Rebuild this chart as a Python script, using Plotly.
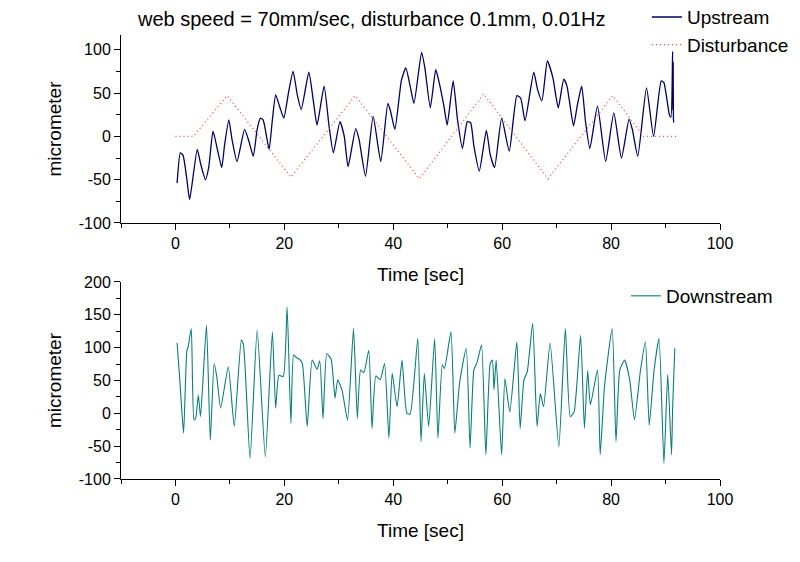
import plotly.graph_objects as go

# Upstream (micrometer) - read extrema from the picture
up_t = [0.3, 0.9, 1.4, 2.1, 2.6, 4.0, 4.6, 5.5, 6.1, 6.9, 7.7, 8.5, 9.0, 9.8, 10.4, 11.3,
        12.7, 13.5, 14.3, 15.0, 15.6, 16.1, 16.5, 17.2, 17.8, 18.4, 19.2, 19.9, 20.8, 21.6,
        22.4, 23.1, 24.5, 25.3, 26.0, 27.3, 28.2, 29.0, 30.2, 31.0, 31.7, 33.1, 33.7, 34.9,
        36.3, 37.7, 39.0, 39.5, 40.3, 41.5, 42.3, 43.1, 43.8, 45.2, 45.8, 46.8, 47.8, 48.4,
        49.3, 49.9, 51.0, 51.8, 52.7, 53.6, 54.2, 54.8, 55.8, 57.1, 57.8, 58.6, 59.9, 61.3,
        62.7, 63.4, 64.2, 65.8, 66.5, 67.3, 68.3, 69.3, 70.3, 71.3, 71.9, 73.1, 73.8, 74.6,
        75.3, 76.1, 77.5, 79.0, 80.5, 81.9, 83.3, 83.9, 84.9, 86.5, 87.8, 89.2, 89.7, 90.7,
        91.0, 91.3, 91.35, 91.4, 91.45, 91.5]
up_v = [-54, -19, -22, -50, -73, -15, -31, -50, -36, 6, -15, -36, -11, 19, -4, -29,
        8, -6, -23, 8, 21, 19, 8, -15, 19, 48, 33, 21, 52, 75,
        47, 31, 74, 42, 13, 58, 12, -19, 17, 0, -35, 9, -3, -46,
        23, -29, 38, 29, 8, 65, 79, 58, 38, 97, 79, 33, 77, 63,
        35, 13, 64, 19, -14, 17, 16, -11, -40, 7, -21, -36, 21, -17,
        47, 44, 18, 74, 54, 41, 87, 68, 33, 66, 58, 12, 36, 58,
        17, -14, 35, -29, 27, -25, 20, 8, -23, 56, 0, 64, 62, 25,
        22, 98, 30, 85, 20, 16]

# Disturbance (micrometer)
dist_t = [0.0, 3.3, 9.5, 21.2, 33.0, 44.8, 56.6, 68.4, 80.3, 86.0, 92.3]
dist_v = [0, 0, 47, -47, 47, -49, 49, -49, 47, 0, 0]

# Downstream (micrometer)
down_t = [0.3, 0.8, 1.2, 1.5, 2.1, 2.3, 2.9, 3.4, 3.7, 4.2, 4.6, 5.7, 6.4, 7.1, 7.6, 8.3,
          9.7, 10.8, 12.1, 12.5, 13.7, 15.0, 16.5, 17.8, 18.4, 19.0, 19.8, 20.5, 21.2,
          21.7, 22.2, 22.8, 23.3, 24.2, 25.1, 26.0, 26.5, 27.1, 27.8, 28.6, 29.3, 29.8,
          30.6, 31.6, 32.7, 33.4, 34.0, 34.6, 35.5, 36.1, 36.8, 37.6, 38.4, 39.2, 39.8,
          40.7, 41.6, 42.5, 43.1, 44.5, 45.1, 45.7, 46.5, 47.6, 48.2, 49.0, 49.4, 50.6,
          51.3, 52.2, 53.4, 54.1, 54.8, 55.4, 56.2, 57.0, 57.8, 58.2, 58.5, 58.9, 59.9,
          60.5, 61.4, 62.7, 63.3, 64.0, 64.6, 65.6, 66.4, 67.0, 67.6, 68.8, 70.4, 71.6,
          72.5, 73.2, 74.4, 75.1, 75.7, 76.2, 77.5, 78.0, 78.8, 80.2, 80.9, 81.6, 82.5,
          83.4, 84.3, 85.4, 86.3, 87.0, 87.9, 88.8, 89.7, 90.4, 91.1, 91.3, 91.7]
down_v = [107, 51, 0, -30, 96, 100, 129, -10, -8, 28, -5, 134, -41, 76, 55, 8,
          71, -20, 112, 104, -69, 127, -66, 124, 8, 58, 56, 162, -15,
          89, 85, 82, 76, -20, 81, 67, 80, -8, 91, 82, 23, 51,
          35, -10, 129, -8, 66, 62, 96, -23, 57, 51, 76, -38, 61,
          10, 81, 0, -1, 114, -43, 61, -20, 114, -38, 74, 68, 124,
          -30, 48, 99, -53, 66, 78, 104, -63, 76, 81, 36, 81, -63,
          53, 2, 109, -23, 51, 63, 137, -20, 30, 10, 107, -51, 129,
          -5, 2, 119, -23, 65, 13, 66, -63, 42, 129, -43, 66, 81,
          52, -10, 66, 109, -18, 66, 114, -76, 59, -63, 8, 99]

# Tick values and labels
x_ticks = [0, 20, 40, 60, 80, 100]
y1_ticks = [-100, -50, 0, 50, 100]
y1_labels = ["-100", "-50", "0", "50", "100"]
y2_ticks = [-100, -50, 0, 50, 100, 150, 200]
y2_labels = ["-100", "-50", "0", "50", "100", "150", "200"]

title_text = "web speed = 70mm/sec, disturbance 0.1mm, 0.01Hz"
x_title = "Time [sec]"
y_title = "micrometer"

FONT = "Liberation Sans, Arial, sans-serif"

fig = go.Figure()
fig.add_trace(go.Scatter(x=up_t, y=up_v, mode="lines", name="Upstream",
                         line=dict(color="#000066", width=1.3, shape="spline", smoothing=0.5),
                         xaxis="x", yaxis="y", legend="legend"))
fig.add_trace(go.Scatter(x=dist_t, y=dist_v, mode="lines", name="Disturbance",
                         line=dict(color="#e8403f", width=1.2, dash="1px,3px"),
                         xaxis="x", yaxis="y", legend="legend"))
fig.add_trace(go.Scatter(x=down_t, y=down_v, mode="lines", name="Downstream",
                         line=dict(color="#0a7f7a", width=1.1, shape="spline", smoothing=0.5),
                         xaxis="x2", yaxis="y2", legend="legend2"))

axis_common = dict(showline=True, linecolor="black", linewidth=1, ticks="outside",
                   ticklen=6, tickcolor="black", showgrid=False, zeroline=False,
                   tickfont=dict(family=FONT, size=16, color="black"), mirror=False,
                   automargin=False)

xa = dict(axis_common, range=[-10, 100], tickvals=x_ticks,
          minor=dict(dtick=10, tick0=0, ticks="outside", ticklen=4, tickcolor="black"),
          title=dict(text=x_title, font=dict(family=FONT, size=19, color="black"), standoff=16))
ya_title = dict(text=y_title, font=dict(family=FONT, size=19, color="black"), standoff=12)

fig.update_layout(
    width=792, height=554,
    paper_bgcolor="white", plot_bgcolor="white",
    margin=dict(l=113, r=80, t=27, b=83, autoexpand=False),
    xaxis=dict(xa, domain=[0, 1], anchor="y"),
    xaxis2=dict(xa, domain=[0, 1], anchor="y2"),
    yaxis=dict(axis_common, domain=[0.5766, 1], range=[-100, 117], anchor="x",
               tickvals=y1_ticks, ticktext=y1_labels,
               minor=dict(dtick=25, tick0=0, ticks="outside", ticklen=4, tickcolor="black"),
               title=ya_title),
    yaxis2=dict(axis_common, domain=[0, 0.4437], range=[-100, 200], anchor="x2",
                tickvals=y2_ticks, ticktext=y2_labels,
                minor=dict(dtick=25, tick0=0, ticks="outside", ticklen=4, tickcolor="black"),
                title=ya_title),
    legend=dict(x=0.878, y=1.083, xanchor="left", yanchor="top", bgcolor="rgba(0,0,0,0)",
                font=dict(family=FONT, size=19, color="black"), tracegroupgap=0),
    legend2=dict(x=0.843, y=0.455, xanchor="left", yanchor="top", bgcolor="rgba(0,0,0,0)",
                 font=dict(family=FONT, size=19, color="black")),
    showlegend=True,
    annotations=[dict(text=title_text, x=0.0234, y=1.036, xref="paper", yref="paper",
                      xanchor="left", yanchor="middle", showarrow=False,
                      font=dict(family=FONT, size=20, color="black"))],
)

fig.write_html("out.html")
